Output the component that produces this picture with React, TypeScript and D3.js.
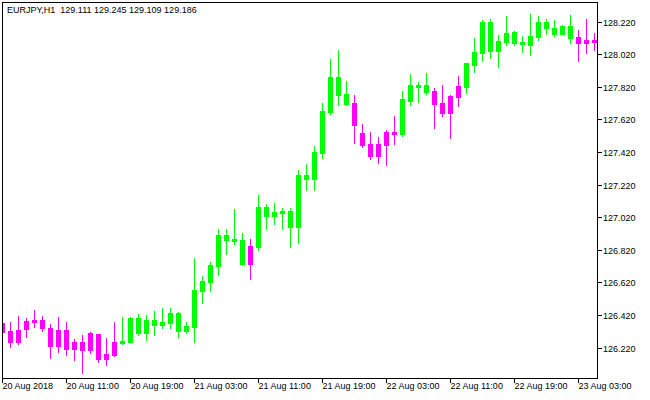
import { useEffect, useRef } from "react"
import * as d3 from "d3"

// EURJPY H1 bars (oldest first)
const opens = [
  126.371, 126.322, 126.329, 126.384, 126.39, 126.39, 126.343, 126.329, 126.329, 126.257,
  126.257, 126.308, 126.304, 126.181, 126.257, 126.251, 126.257, 126.308, 126.308, 126.359,
  126.359, 126.37, 126.324, 126.324, 126.349, 126.57, 126.625, 126.723, 126.881, 126.875,
  126.733, 126.844, 126.838, 127.028, 127.028, 127.048, 126.96, 126.96, 127.255, 127.255,
  127.416, 127.666, 127.77, 127.715, 127.721, 127.537, 127.47, 127.47, 127.543, 127.543,
  127.531, 127.733, 127.819, 127.789, 127.795, 127.721, 127.764, 127.825, 127.819, 127.954,
  128.028, 128.04, 128.04, 128.095, 128.089, 128.083, 128.077, 128.126, 128.181, 128.144,
  128.144, 128.12, 128.126, 128.108, 128.108,
]
const highs = [
  126.384, 126.379, 126.416, 126.404, 126.451, 126.416, 126.363, 126.41, 126.376, 126.273,
  126.298, 126.314, 126.304, 126.281, 126.379, 126.41, 126.408, 126.427, 126.421, 126.445,
  126.462, 126.462, 126.437, 126.379, 126.772, 126.66, 126.746, 126.948, 126.948, 127.071,
  126.922, 126.887, 127.157, 127.102, 127.108, 127.077, 127.077, 127.31, 127.347, 127.457,
  127.721, 127.991, 128.046, 127.856, 127.77, 127.592, 127.543, 127.513, 127.556, 127.641,
  127.795, 127.899, 127.85, 127.905, 127.813, 127.832, 127.77, 127.887, 127.967, 128.12,
  128.23, 128.236, 128.138, 128.255, 128.163, 128.132, 128.267, 128.255, 128.236, 128.23,
  128.2, 128.261, 128.169, 128.236, 128.151,
]
const lows = [
  126.304, 126.226, 126.243, 126.287, 126.349, 126.324, 126.159, 126.195, 126.175, 126.144,
  126.067, 126.186, 126.134, 126.114, 126.172, 126.243, 126.255, 126.298, 126.267, 126.298,
  126.343, 126.339, 126.287, 126.308, 126.257, 126.496, 126.57, 126.666, 126.795, 126.856,
  126.727, 126.643, 126.819, 126.948, 126.979, 126.948, 126.838, 126.862, 127.187, 127.187,
  127.386, 127.654, 127.709, 127.709, 127.476, 127.451, 127.378, 127.353, 127.341, 127.47,
  127.519, 127.709, 127.727, 127.776, 127.568, 127.641, 127.506, 127.703, 127.782, 127.911,
  127.979, 127.997, 127.942, 128.077, 128.077, 128.034, 128.016, 128.108, 128.144, 128.132,
  128.144, 128.089, 127.979, 128.028, 128.046,
]
const closes = [
  126.316, 126.257, 126.257, 126.333, 126.378, 126.339, 126.232, 126.232, 126.212, 126.212,
  126.206, 126.206, 126.151, 126.152, 126.175, 126.261, 126.404, 126.4, 126.39, 126.39,
  126.379, 126.431, 126.435, 126.353, 126.574, 126.629, 126.727, 126.911, 126.911, 126.887,
  126.881, 126.733, 127.083, 127.083, 127.052, 127.06, 127.059, 127.279, 127.279, 127.421,
  127.672, 127.881, 127.881, 127.776, 127.586, 127.463, 127.396, 127.396, 127.463, 127.531,
  127.746, 127.832, 127.832, 127.832, 127.715, 127.66, 127.66, 127.758, 127.967, 128.034,
  128.218, 128.218, 128.102, 128.151, 128.157, 128.095, 128.132, 128.218, 128.218, 128.181,
  128.194, 128.194, 128.089, 128.089, 128.095,
]

const timeLabels = [
  "20 Aug 2018",
  "20 Aug 11:00",
  "20 Aug 19:00",
  "21 Aug 03:00",
  "21 Aug 11:00",
  "21 Aug 19:00",
  "22 Aug 03:00",
  "22 Aug 11:00",
  "22 Aug 19:00",
  "23 Aug 03:00",
]
const barsPerLabel = 8

const priceTicks = [
  128.22, 128.02, 127.82, 127.62, 127.42, 127.22, 127.02, 126.82, 126.62, 126.42, 126.22,
]

const header = "EURJPY,H1  129.111 129.245 129.109 129.186"

export default function App() {
  const svgRef = useRef<SVGSVGElement>(null)

  useEffect(() => {
    if (!svgRef.current) return

    const svg = d3.select(svgRef.current)
    svg.selectAll("*").remove()

    const width = 650
    const height = 400
    const left = 2.5
    const top = 2.5
    const right = 597.5
    const bottom = 378.5
    const step = 8
    const font = "'Liberation Sans', Arial, sans-serif"

    const up = "#00ff00"
    const down = "#ff00ff"

    svg.attr("width", width).attr("height", height)

    svg.append("rect").attr("width", width).attr("height", height).attr("fill", "#fff")

    const n = closes.length
    const x = d3
      .scaleLinear()
      .domain([0, n - 1])
      .range([left, left + step * (n - 1)])
    const y = d3.scaleLinear().domain([126.22, 128.22]).range([347.7, 21.7])

    svg
      .append("clipPath")
      .attr("id", "plot-clip")
      .append("rect")
      .attr("x", left)
      .attr("y", top)
      .attr("width", right - left)
      .attr("height", bottom - top)

    const g = svg.append("g").attr("clip-path", "url(#plot-clip)").attr("shape-rendering", "crispEdges")

    // candles
    closes.forEach((c, i) => {
      const o = opens[i]
      const color = c >= o ? up : down
      const cx = x(i)

      g.append("line")
        .attr("x1", cx)
        .attr("x2", cx)
        .attr("y1", Math.round(y(highs[i])))
        .attr("y2", Math.round(y(lows[i])) + 1)
        .attr("stroke", color)
        .attr("stroke-width", 1)

      const yTop = Math.round(y(Math.max(o, c)))
      const yBot = Math.round(y(Math.min(o, c)))
      g.append("rect")
        .attr("x", cx - 2.5)
        .attr("y", yTop)
        .attr("width", 5)
        .attr("height", Math.max(1, yBot - yTop + 1))
        .attr("fill", color)
    })

    // frame
    svg
      .append("path")
      .attr("d", `M${left},${bottom}V${top}H${right}V${bottom}Z`)
      .attr("fill", "none")
      .attr("stroke", "#000")
      .attr("stroke-width", 1)
      .attr("shape-rendering", "crispEdges")

    // price axis
    priceTicks.forEach((p) => {
      const py = Math.round(y(p)) + 0.5
      svg
        .append("line")
        .attr("x1", right)
        .attr("x2", right + 4)
        .attr("y1", py)
        .attr("y2", py)
        .attr("stroke", "#000")
        .attr("shape-rendering", "crispEdges")
      svg
        .append("text")
        .attr("x", right + 5.5)
        .attr("y", py)
        .attr("dominant-baseline", "central")
        .style("font-family", font)
        .style("font-size", "9px")
        .style("fill", "#000")
        .text(d3.format(".3f")(p))
    })

    // time axis
    timeLabels.forEach((label, i) => {
      const tx = x(i * barsPerLabel)
      svg
        .append("line")
        .attr("x1", tx)
        .attr("x2", tx)
        .attr("y1", bottom)
        .attr("y2", bottom + 4)
        .attr("stroke", "#000")
        .attr("shape-rendering", "crispEdges")
      svg
        .append("text")
        .attr("x", tx)
        .attr("y", bottom + 10.5)
        .style("font-family", font)
        .style("font-size", "9px")
        .style("fill", "#000")
        .text(label)
    })

    svg
      .append("text")
      .attr("x", 7)
      .attr("y", 12.5)
      .style("font-family", font)
      .style("font-size", "9px")
      .style("white-space", "pre")
      .style("fill", "#000")
      .text(header)
  }, [])

  return (
    <svg
      ref={svgRef}
      style={{ position: "absolute", left: 0, top: 0, display: "block" }}
    />
  )
}
